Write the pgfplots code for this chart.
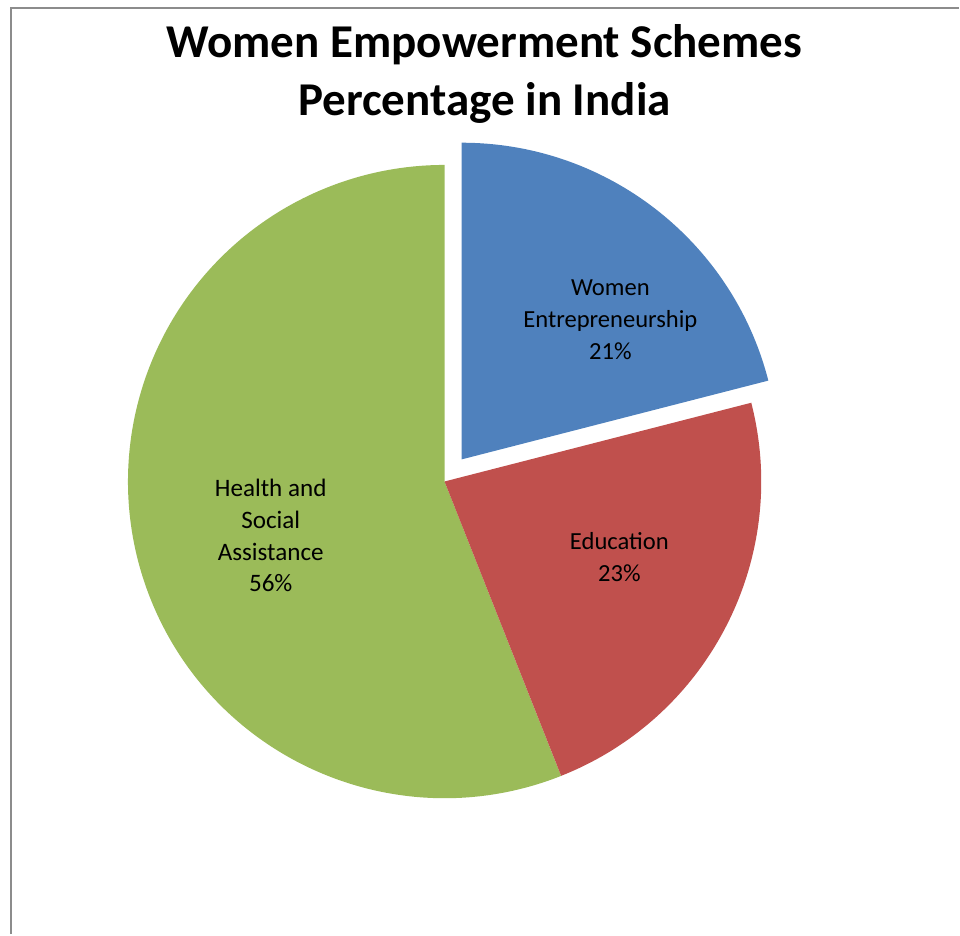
\documentclass[border=0pt]{standalone}
\usepackage{pgfplots}
\pgfplotsset{compat=1.18}
\usepackage{pgfplotstable}
\usepackage{fontspec}
\setmainfont{Carlito}
\definecolor{sliceblue}{HTML}{4F81BD}
\definecolor{slicered}{HTML}{C0504D}
\definecolor{slicegreen}{HTML}{9BBB59}
\definecolor{framegray}{HTML}{8C8C8C}
\pgfplotstableread{
value
21
23
56
}\piedata
\begin{document}
\begin{tikzpicture}
\pgfplotstablegetelem{0}{value}\of\piedata \let\vA\pgfplotsretval
\pgfplotstablegetelem{1}{value}\of\piedata \let\vB\pgfplotsretval
\pgfplotstablegetelem{2}{value}\of\piedata \let\vC\pgfplotsretval
\pgfmathsetmacro\aS{90}
\pgfmathsetmacro\aA{\aS-3.6*\vA}
\pgfmathsetmacro\aB{\aA-3.6*\vB}
\pgfmathsetmacro\aC{\aB-3.6*\vC}
\pgfmathsetmacro\mA{(\aS+\aA)/2}
\pgfmathsetmacro\cx{445}
\pgfmathsetmacro\cy{453}
\pgfmathsetmacro\cxA{\cx+28*cos(\mA)}
\pgfmathsetmacro\cyA{\cy+28*sin(\mA)}
\begin{axis}[x=0.02cm,y=0.02cm,xmin=0,xmax=960,ymin=0,ymax=935,
  hide axis,clip=false]
\path (axis cs:0,0) rectangle (axis cs:960,935);
\draw[framegray,line width=0.04cm] (axis cs:11,0) -- (axis cs:11,927) -- (axis cs:960,927);
% green slice
\fill[slicegreen] (axis cs:\cx,\cy) -- (axis cs:{\cx+317*cos(\aB)},{\cy+317*sin(\aB)})
  arc[start angle=\aB, end angle=\aC, radius=6.34cm] -- cycle;
% red slice
\fill[slicered] (axis cs:\cx,\cy) -- (axis cs:{\cx+317*cos(\aA)},{\cy+317*sin(\aA)})
  arc[start angle=\aA, end angle=\aB, radius=6.34cm] -- cycle;
% blue slice (exploded)
\fill[sliceblue] (axis cs:\cxA,\cyA) -- (axis cs:{\cxA+317*cos(\aS)},{\cyA+317*sin(\aS)})
  arc[start angle=\aS, end angle=\aA, radius=6.34cm] -- cycle;
\node[align=center,font=\bfseries\fontsize{26.8}{33}\selectfont] at (axis cs:485,861)
  {Women Empowerment Schemes\\Percentage in India};
\node[align=center,font=\fontsize{14}{18.2}\selectfont] at (axis cs:611,615)
  {Women\\Entrepreneurship\\21\%};
\node[align=center,font=\fontsize{14}{18.2}\selectfont] at (axis cs:620,377)
  {Education\\23\%};
\node[align=center,font=\fontsize{14.3}{18.2}\selectfont] at (axis cs:271,399)
  {Health and\\Social\\Assistance\\56\%};
\end{axis}
\end{tikzpicture}
\end{document}
